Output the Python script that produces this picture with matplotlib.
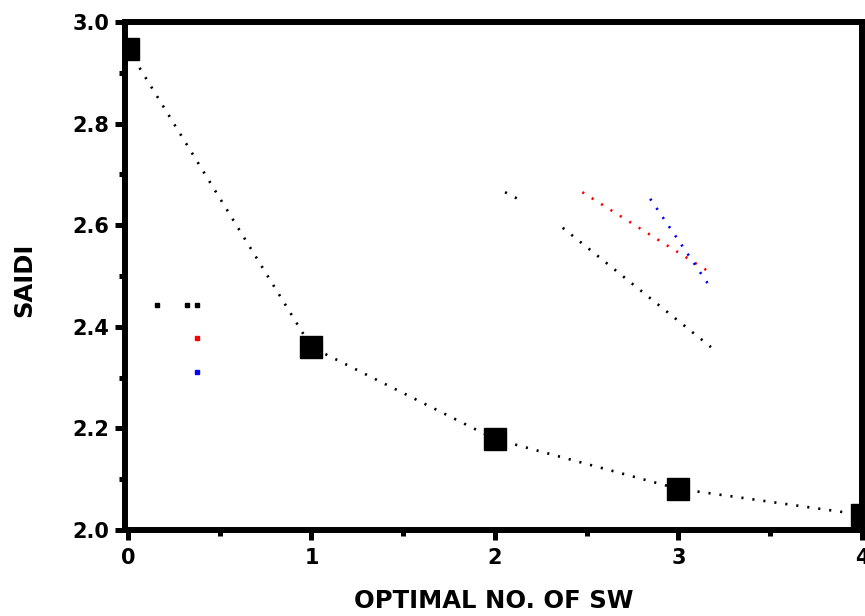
import matplotlib.pyplot as plt
from matplotlib.ticker import MultipleLocator

plt.rcParams['font.family'] = ['DejaVu Sans']
plt.rcParams['font.weight'] = 'bold'

# main series
sw_count = [0, 1, 2, 3, 4]
saidi = [2.947, 2.36, 2.179, 2.081, 2.03]

# stray dotted fragments left in the figure (legend / fit leftovers)
frag_black_a_x = [2.055, 2.16]
frag_black_a_y = [2.665, 2.645]
frag_black_b_x = [2.369, 3.177]
frag_black_b_y = [2.595, 2.360]
frag_red_x = [2.476, 3.177]
frag_red_y = [2.665, 2.506]
frag_blue_x = [2.846, 3.177]
frag_blue_y = [2.652, 2.476]
legend_black_x = [0.156, 0.32, 0.374]
legend_black_y = [2.443, 2.443, 2.443]
legend_red = (0.374, 2.377)
legend_blue = (0.374, 2.312)

fig = plt.figure(figsize=(8.65, 6.16), dpi=100)
ax = fig.add_axes([125 / 865, 1 - 530 / 616, 737 / 865, 508 / 616])

dots = (0, (0.8, 3.4))
lw = 1.9
ax.plot(sw_count, saidi, color='black', linestyle=dots, linewidth=lw)
# squares sit under the thick frame, so the end ones look cut by it
ax.plot(sw_count, saidi, linestyle='none', marker='s', markersize=16,
        color='black', zorder=2.2)

ax.plot(frag_black_a_x, frag_black_a_y, color='black', linestyle=dots, linewidth=lw)
ax.plot(frag_black_b_x, frag_black_b_y, color='black', linestyle=dots, linewidth=lw)
ax.plot(frag_red_x, frag_red_y, color='red', linestyle=dots, linewidth=lw)
ax.plot(frag_blue_x, frag_blue_y, color='blue', linestyle=dots, linewidth=lw)
ax.plot(legend_black_x, legend_black_y, linestyle='none', marker='s', markersize=2.2, color='black')
ax.plot(*legend_red, linestyle='none', marker='s', markersize=2.2, color='red')
ax.plot(*legend_blue, linestyle='none', marker='s', markersize=2.2, color='blue')

ax.set_xlim(-0.016, 4.0)
ax.set_ylim(2.0, 3.0)
ax.xaxis.set_minor_locator(MultipleLocator(0.5))
ax.yaxis.set_minor_locator(MultipleLocator(0.1))
ax.set_xticks([0, 1, 2, 3, 4])
ax.set_xticklabels(['0', '1', '2', '3', '4'])
ax.set_yticks([2.0, 2.2, 2.4, 2.6, 2.8, 3.0])
ax.set_yticklabels(['2.0', '2.2', '2.4', '2.6', '2.8', '3.0'])

for s in ax.spines.values():
    s.set_linewidth(4.3)
ax.tick_params(which='major', direction='out', length=7, width=3.6, labelsize=15, pad=4)
ax.tick_params(axis='x', which='major', pad=6)
ax.tick_params(which='minor', direction='out', length=4, width=3.6)

ax.set_xlabel('OPTIMAL NO. OF SW', fontsize=17.5, fontweight='bold')
ax.set_ylabel('SAIDI', fontsize=17.5, fontweight='bold')
ax.xaxis.set_label_coords(0.5, -0.117)
ax.yaxis.set_label_coords(-0.12, 0.492)

fig.savefig('out.png', dpi=100)
